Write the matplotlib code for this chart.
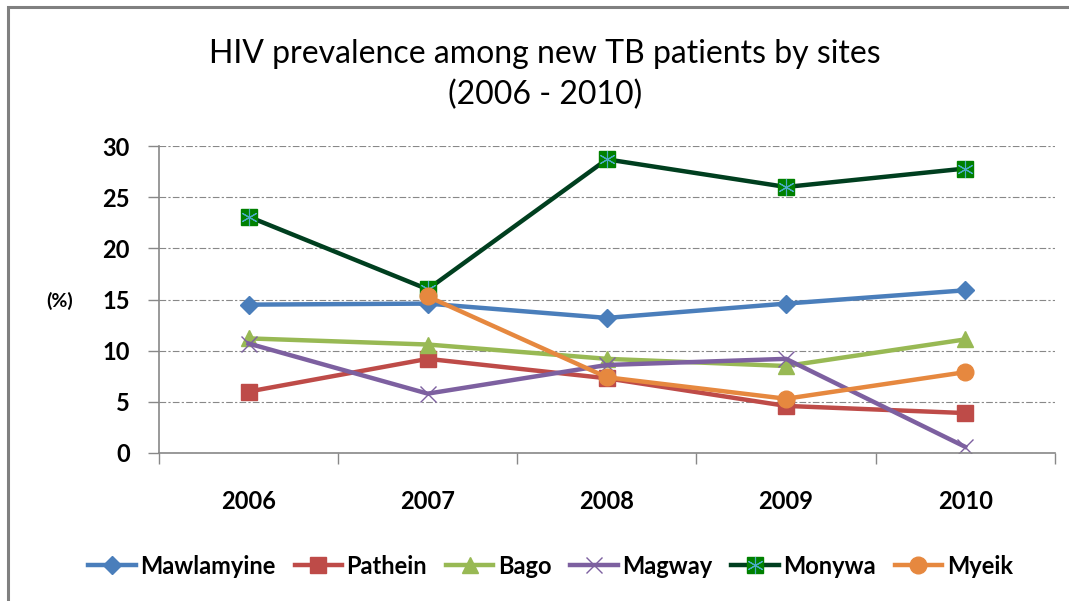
import matplotlib
matplotlib.use("Agg")
import matplotlib.pyplot as plt
from matplotlib.patches import Rectangle
import numpy as np

plt.rcParams['font.family'] = ['Lato', 'DejaVu Sans']

years = ["2006", "2007", "2008", "2009", "2010"]
mawlamyine = [14.5, 14.6, 13.2, 14.6, 15.9]
pathein = [6.0, 9.2, 7.3, 4.6, 3.9]
bago = [11.2, 10.6, 9.2, 8.5, 11.1]
magway = [10.7, 5.8, 8.6, 9.2, 0.6]
monywa = [23.1, 16.0, 28.7, 26.0, 27.8]
myeik = [np.nan, 15.3, 7.4, 5.3, 7.9]

fig = plt.figure(figsize=(10.69, 6.01), dpi=100)
ax = fig.add_axes([0.1487, 0.2463, 0.838, 0.5107])

x = np.arange(len(years))
lw = 3.2

l1, = ax.plot(x, mawlamyine, color='#4A7EBB', lw=lw, marker='D', ms=9, label='Mawlamyine')
l2, = ax.plot(x, pathein, color='#BE4B48', lw=lw, marker='s', ms=11, label='Pathein')
l3, = ax.plot(x, bago, color='#98B954', lw=lw, marker='^', ms=12, label='Bago')
l4, = ax.plot(x, magway, color='#7D60A0', lw=lw, marker='x', ms=12, mew=1.0, label='Magway')
l5, = ax.plot(x, monywa, color='#003F1F', lw=lw, marker='s', ms=12,
              mfc='#008000', mec='#008000', label='Monywa')
l5b, = ax.plot(x, monywa, ls='none', marker=(6, 2, 0), ms=12, mew=0.8, color='#4BACC6')
l6, = ax.plot(x, myeik, color='#E6883F', lw=lw, marker='o', ms=12, label='Myeik')

ax.set_ylim(0, 30)
ax.set_yticks(range(0, 31, 5))
ax.set_xlim(-0.5, len(years) - 0.5)
ax.set_xticks(np.arange(-0.5, len(years)), minor=False)
ax.set_xticklabels([])
ax.set_xticks(x, minor=True)
ax.set_xticklabels(years, minor=True)
ax.tick_params(axis='x', which='major', length=8, color='#888888', width=1)
ax.tick_params(axis='x', which='minor', length=0, pad=27, labelsize=17)
ax.tick_params(axis='y', length=8, color='#888888', width=1, pad=13, labelsize=17)
for lab in ax.get_xticklabels(minor=True) + ax.get_yticklabels():
    lab.set_fontweight('bold')

ax.yaxis.grid(True, color='#888888', lw=0.8, ls=(0, (6, 2, 2, 2)))
ax.set_axisbelow(True)
for s in ['top', 'right']:
    ax.spines[s].set_visible(False)
for s in ['left', 'bottom']:
    ax.spines[s].set_color('#888888')
    ax.spines[s].set_linewidth(1.2)

fig.text(0.056, 0.5, '(%)', fontsize=14, fontweight='bold', ha='center', va='center')
fig.text(0.51, 0.876, 'HIV prevalence among new TB patients by sites\n(2006 - 2010)',
         fontsize=23, ha='center', va='center', linespacing=1.45)

fig.legend([l1, l2, l3, l4, (l5, l5b), l6],
           ['Mawlamyine', 'Pathein', 'Bago', 'Magway', 'Monywa', 'Myeik'],
           loc='center', bbox_to_anchor=(0.515, 0.058), ncol=6, frameon=False,
           prop={'size': 17, 'weight': 'bold'}, handlelength=2.0,
           handletextpad=0.2, columnspacing=0.8)

fig.patches.append(Rectangle((0.0075, -0.05), 1.1, 0.988 + 0.05, transform=fig.transFigure,
                             fill=False, edgecolor='#808080', lw=2.2))

fig.savefig('out.png', dpi=100)
